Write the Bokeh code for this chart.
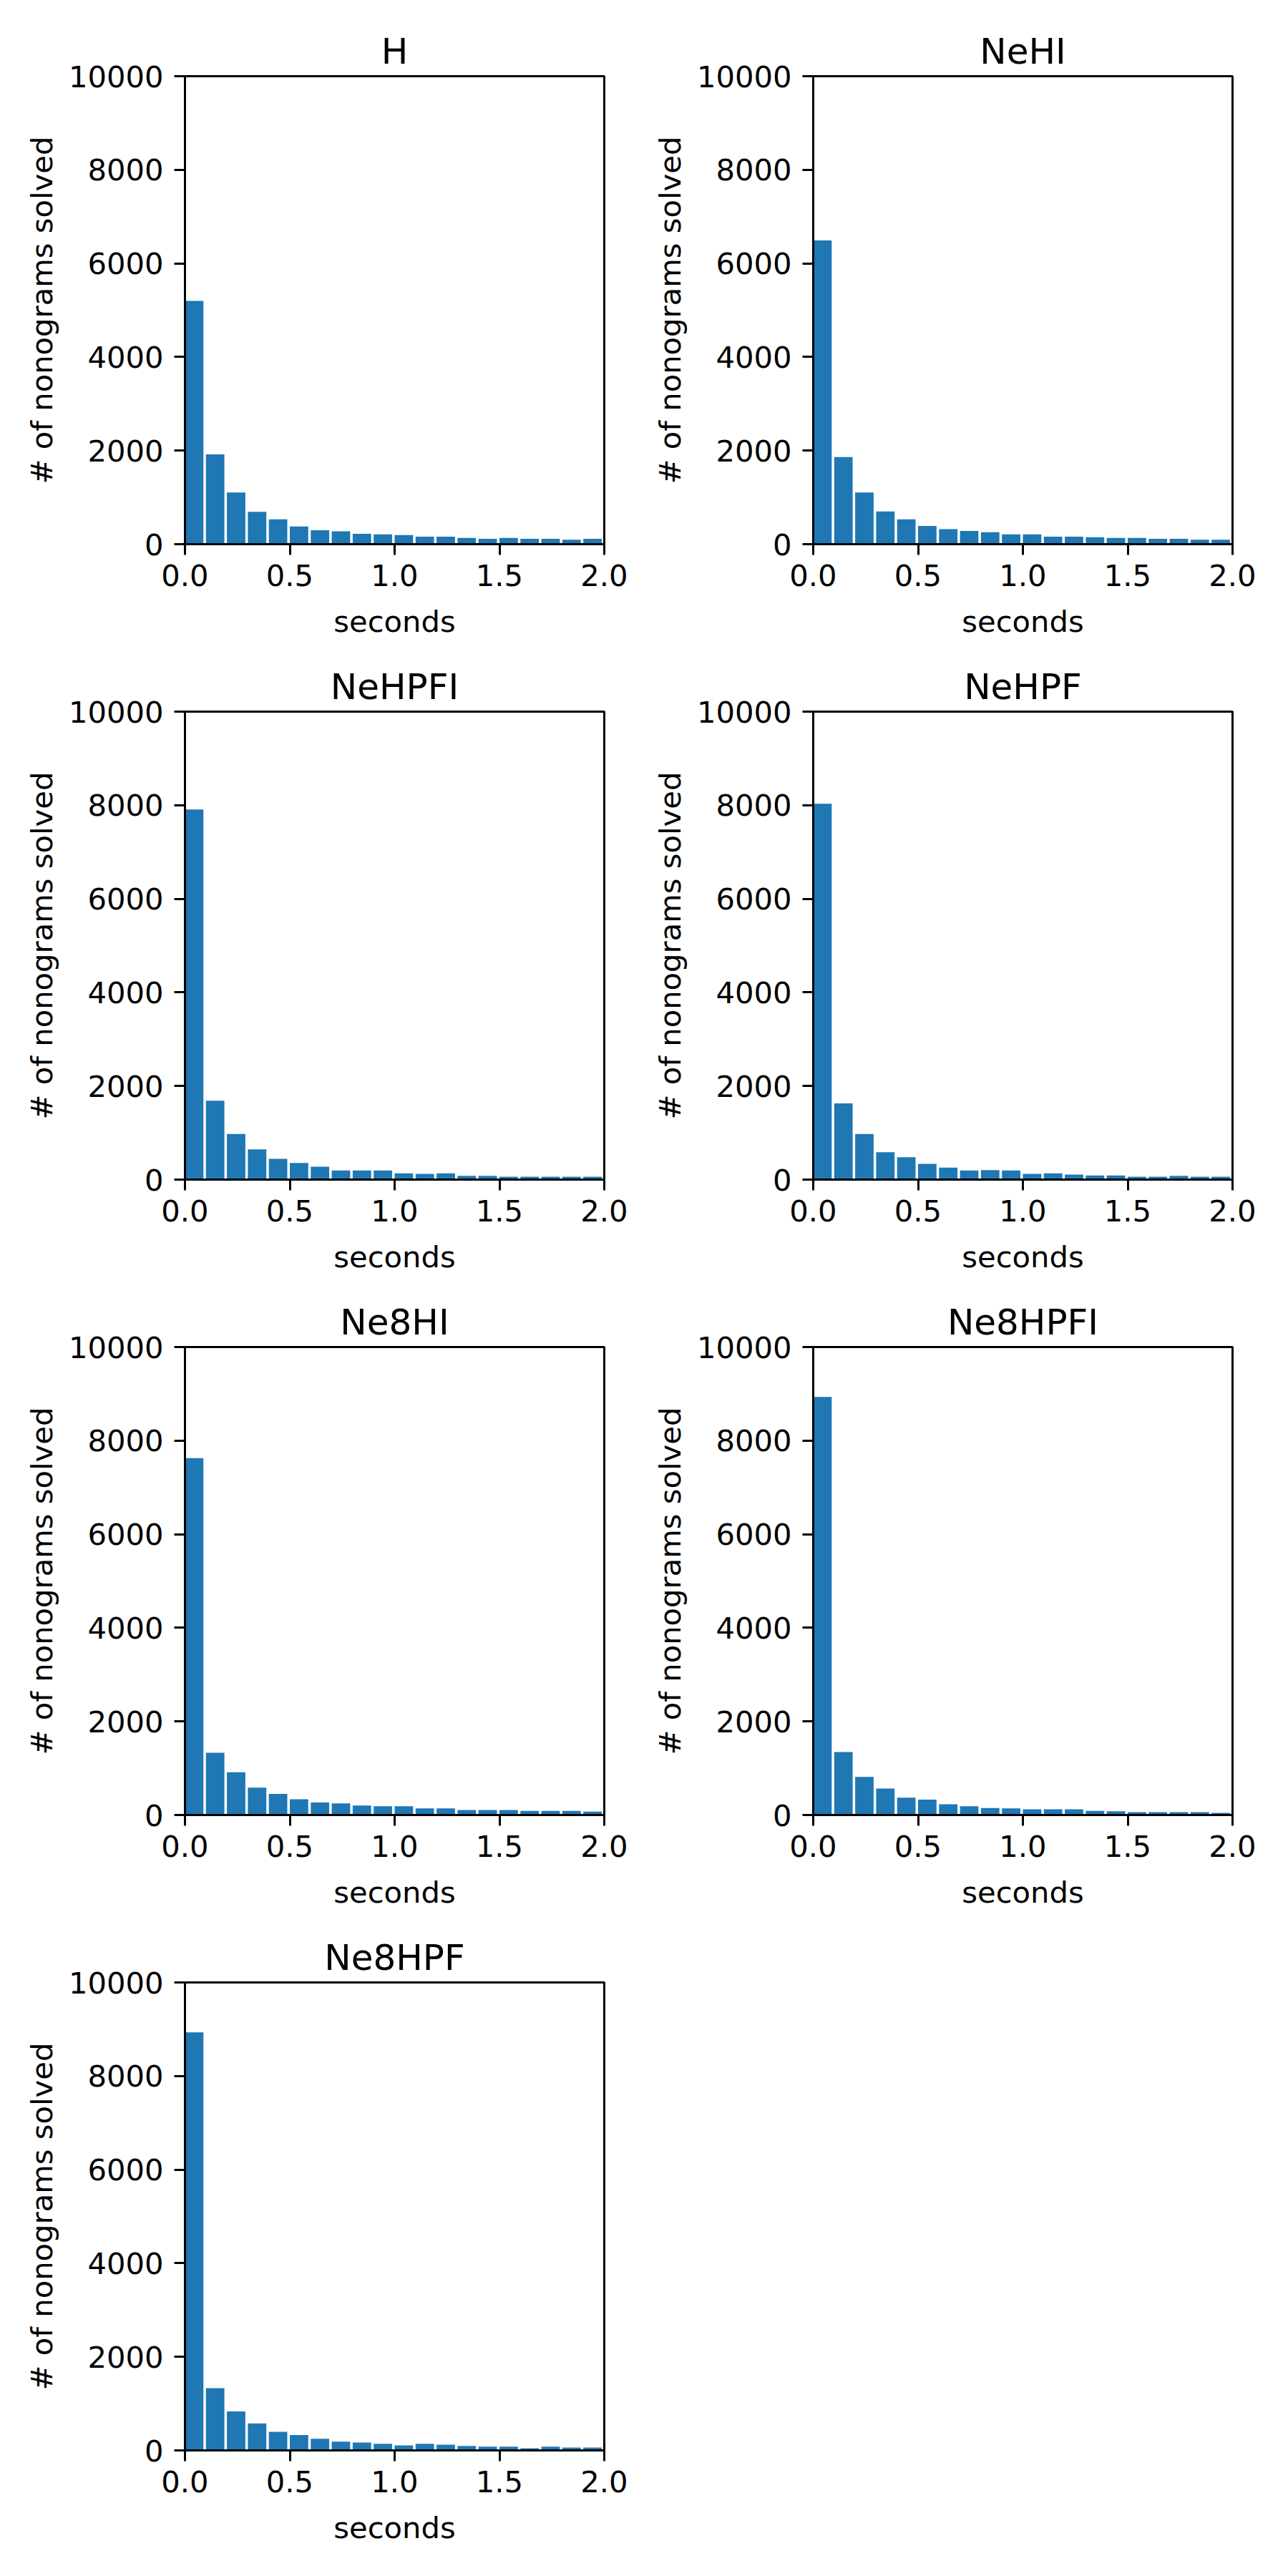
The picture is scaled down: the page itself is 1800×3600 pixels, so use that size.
import numpy as np
from bokeh.plotting import figure
from bokeh.models import Range1d, FixedTicker, NumeralTickFormatter
from bokeh.layouts import column, row
from bokeh.embed import file_html
from bokeh.resources import INLINE

# ---- data ----
titles = ["H", "NeHI", "NeHPFI", "NeHPF", "Ne8HI", "Ne8HPFI", "Ne8HPF"]

bin_edges = [0.0, 0.1, 0.2, 0.3, 0.4, 0.5, 0.6, 0.7, 0.8, 0.9, 1.0,
             1.1, 1.2, 1.3, 1.4, 1.5, 1.6, 1.7, 1.8, 1.9, 2.0]

counts_H = [5200, 1920, 1105, 690, 530, 380, 300, 275, 220, 212,
            195, 160, 160, 133, 115, 133, 115, 115, 97, 115]
counts_NeHI = [6490, 1860, 1105, 700, 530, 390, 320, 283, 257, 212,
               212, 160, 160, 150, 133, 133, 115, 115, 97, 97]
counts_NeHPFI = [7910, 1685, 975, 647, 443, 355, 275, 195, 195, 195,
                 133, 124, 133, 80, 80, 62, 62, 62, 62, 62]
counts_NeHPF = [8030, 1630, 975, 585, 479, 337, 257, 195, 204, 195,
                124, 133, 106, 89, 89, 62, 62, 80, 62, 62]
counts_Ne8HI = [7625, 1330, 912, 585, 452, 337, 266, 248, 204, 186,
                186, 142, 142, 106, 106, 106, 89, 89, 89, 71]
counts_Ne8HPFI = [8935, 1345, 815, 567, 372, 328, 230, 186, 150, 142,
                  124, 124, 124, 89, 80, 62, 62, 62, 62, 44]
counts_Ne8HPF = [8935, 1330, 833, 576, 399, 328, 248, 186, 168, 142,
                 106, 142, 124, 97, 80, 80, 44, 80, 62, 62]

all_counts = [counts_H, counts_NeHI, counts_NeHPFI, counts_NeHPF,
              counts_Ne8HI, counts_Ne8HPFI, counts_Ne8HPF]

x_ticks = [0.0, 0.5, 1.0, 1.5, 2.0]
y_ticks = [0, 2000, 4000, 6000, 8000, 10000]

# ---- style ----
BAR_COLOR = "#1f77b4"
FONT = "DejaVu Sans"
TICK_FS = "41.7px"
TITLE_FS = "50px"
BAR_FRAC = 0.88
FRAME_H = 654
BORDER_BOTTOM = 152


def make_panel(title, counts, col, first_row):
    if col == 0:
        mbl, mbr = 258, 48
    else:
        mbl, mbr = 244, 62
    top = 106 if first_row else 888 - FRAME_H - BORDER_BOTTOM
    p = figure(width=892, height=top + FRAME_H + BORDER_BOTTOM,
               x_range=Range1d(0, 2), y_range=Range1d(0, 10000),
               output_backend="svg", toolbar_location=None,
               title=title,
               min_border_left=mbl, min_border_right=mbr,
               min_border_top=top, min_border_bottom=BORDER_BOTTOM)
    p.background_fill_color = "white"
    p.border_fill_color = "white"
    p.outline_line_color = "black"
    p.outline_line_width = 3
    p.outline_line_alpha = 1.0
    p.xgrid.visible = False
    p.ygrid.visible = False

    p.title.text_font = FONT
    p.title.text_font_size = TITLE_FS
    p.title.text_font_style = "normal"
    p.title.align = "center"
    p.title.text_color = "black"
    p.title.standoff = 12

    edges = np.array(bin_edges)
    widths = np.diff(edges)
    left = edges[:-1]
    right = edges[:-1] + widths * BAR_FRAC
    p.quad(left=left, right=right, bottom=0, top=counts,
           fill_color=BAR_COLOR, line_color=None)

    for ax in (p.xaxis[0], p.yaxis[0]):
        ax.axis_line_color = "black"
        ax.axis_line_width = 3
        ax.major_tick_line_color = "black"
        ax.major_tick_line_width = 3
        ax.major_tick_in = 0
        ax.major_tick_out = 15
        ax.minor_tick_line_color = None
        ax.major_label_text_font = FONT
        ax.major_label_text_font_size = TICK_FS
        ax.major_label_text_color = "black"
        ax.axis_label_text_font = FONT
        ax.axis_label_text_font_size = TICK_FS
        ax.axis_label_text_font_style = "normal"
        ax.axis_label_text_color = "black"

    p.xaxis.ticker = FixedTicker(ticks=x_ticks)
    p.xaxis.formatter = NumeralTickFormatter(format="0.0")
    p.xaxis.axis_label = "seconds"
    p.xaxis.major_label_standoff = 13
    p.xaxis.axis_label_standoff = 22

    p.yaxis.ticker = FixedTicker(ticks=y_ticks)
    p.yaxis.formatter = NumeralTickFormatter(format="0")
    p.yaxis.axis_label = "# of nonograms solved"
    p.yaxis.major_label_standoff = 15
    p.yaxis.axis_label_standoff = 10
    return p


panels = [make_panel(t, c, i % 2, i < 2)
          for i, (t, c) in enumerate(zip(titles, all_counts))]

layout = column(
    row(panels[0], panels[1]),
    row(panels[2], panels[3]),
    row(panels[4], panels[5]),
    row(panels[6]),
)

open("out.html", "w").write(file_html(layout, INLINE))
